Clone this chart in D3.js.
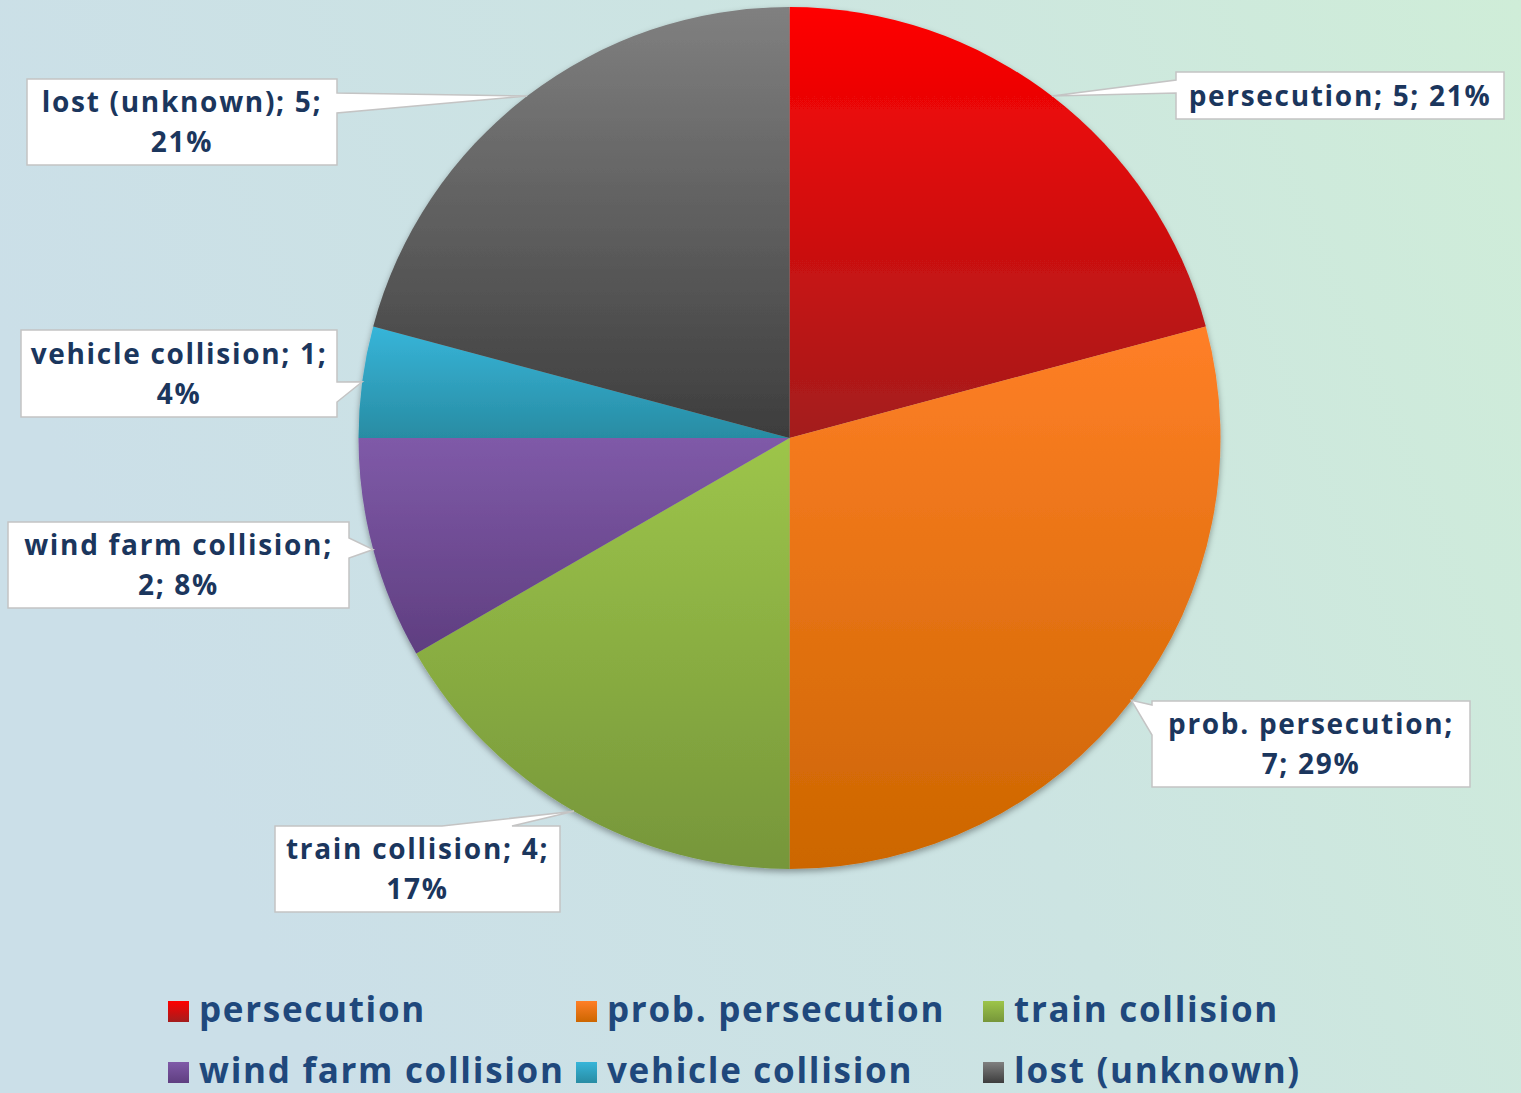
<!DOCTYPE html>
<html>
<head>
<meta charset="utf-8">
<script src="https://cdn.jsdelivr.net/npm/d3@7"></script>
<style>
  html, body { margin: 0; padding: 0; overflow: hidden; }
  svg { display: block; }
</style>
</head>
<body>
<div id="chart"></div>
<script>
// causes of death, counts
var categories = ["persecution", "prob. persecution", "train collision",
                  "wind farm collision", "vehicle collision", "lost (unknown)"];
var values = [5, 7, 4, 2, 1, 5];
// slice colours, light (top) and dark (bottom)
var colorTop = ["#ff0000", "#ff7f27", "#9dc54a", "#7f5aa8", "#37b5d9", "#808080"];
var colorBottom = ["#a31d1d", "#cc6600", "#76963a", "#5f3e80", "#288ca3", "#3d3d3d"];

var width = 1521, height = 1093;
var cx = 789.5, cy = 438, radius = 431;
var labelColor = "#1b365d", legendColor = "#1f487c";
var font = "'Open Sans', sans-serif";

// callout boxes: where each box sits and how its text wraps
var callouts = {
  "persecution":         { x: 1176, y: 72,  w: 328, h: 47, side: "left",  b0: 8,   b1: 21, lines: 1 },
  "prob. persecution":   { x: 1152, y: 701, w: 318, h: 86, side: "left",  b0: 4,   b1: 34, lines: 2 },
  "train collision":     { x: 275,  y: 826, w: 285, h: 86, side: "top",   b0: 167, b1: 237, lines: 2 },
  "wind farm collision": { x: 8,    y: 522, w: 341, h: 86, side: "right", b0: 16,  b1: 36, lines: 2 },
  "vehicle collision":   { x: 21,   y: 330, w: 316, h: 87, side: "right", b0: 52,  b1: 72, lines: 2 },
  "lost (unknown)":      { x: 27,   y: 79,  w: 310, h: 86, side: "right", b0: 14,  b1: 34, lines: 2 }
};

var total = d3.sum(values);
var data = categories.map(function(c, i) { return { name: c, value: values[i], i: i }; });

var svg = d3.select("#chart").append("svg")
  .attr("width", width)
  .attr("height", height);

var defs = svg.append("defs");

var bg = defs.append("linearGradient").attr("id", "bg")
  .attr("x1", 0).attr("y1", 0.3).attr("x2", 1).attr("y2", 0);
bg.append("stop").attr("offset", 0).attr("stop-color", "#cbdfe8");
bg.append("stop").attr("offset", 0.5).attr("stop-color", "#cce4e2");
bg.append("stop").attr("offset", 1).attr("stop-color", "#cfedd8");

data.forEach(function(d) {
  var g = defs.append("linearGradient").attr("id", "slice" + d.i)
    .attr("x1", 0).attr("y1", 0).attr("x2", 0).attr("y2", 1);
  g.append("stop").attr("offset", 0).attr("stop-color", colorTop[d.i]);
  g.append("stop").attr("offset", 1).attr("stop-color", colorBottom[d.i]);
});

var shadow = defs.append("filter").attr("id", "shadow")
  .attr("x", "-10%").attr("y", "-10%").attr("width", "120%").attr("height", "120%");
shadow.append("feDropShadow")
  .attr("dx", 0).attr("dy", 3).attr("stdDeviation", 3)
  .attr("flood-color", "#000").attr("flood-opacity", 0.35);

svg.append("rect")
  .attr("width", width).attr("height", height)
  .attr("fill", "url(#bg)");

var pie = d3.pie().sort(null).value(function(d) { return d.value; });
var arcs = pie(data);

var arc = d3.arc().innerRadius(0).outerRadius(radius);
var edge = d3.arc().innerRadius(radius).outerRadius(radius);

var pieG = svg.append("g")
  .attr("transform", "translate(" + cx + "," + cy + ")")
  .attr("filter", "url(#shadow)");

pieG.selectAll("path")
  .data(arcs)
  .enter().append("path")
    .attr("d", arc)
    .attr("fill", function(d) { return "url(#slice" + d.data.i + ")"; });

// callouts
function calloutPath(b, tip) {
  var x0 = b.x, y0 = b.y, x1 = b.x + b.w, y1 = b.y + b.h;
  var p = [];
  if (b.side == "left") {
    p = [[x0, y0], [x1, y0], [x1, y1], [x0, y1], [x0, y0 + b.b1], tip, [x0, y0 + b.b0]];
  } else if (b.side == "right") {
    p = [[x0, y0], [x1, y0], [x1, y0 + b.b0], tip, [x1, y0 + b.b1], [x1, y1], [x0, y1]];
  } else {
    p = [[x0, y0], [x0 + b.b0, y0], tip, [x0 + b.b1, y0], [x1, y0], [x1, y1], [x0, y1]];
  }
  return "M" + p.map(function(q) { return q.join(","); }).join("L") + "Z";
}

var labels = svg.append("g").attr("class", "labels");

arcs.forEach(function(a) {
  var b = callouts[a.data.name];
  var c = edge.centroid(a);
  var tip = [cx + c[0], cy + c[1]];
  var pct = Math.round(a.data.value / total * 100) + "%";
  var full = a.data.name + "; " + a.data.value + "; " + pct;

  labels.append("path")
    .attr("d", calloutPath(b, tip))
    .attr("fill", "#fff")
    .attr("stroke", "#c4c4c4")
    .attr("stroke-width", 1.5);

  var lines;
  if (b.lines == 1) {
    lines = [full];
  } else {
    // break before the last part that fits on line two
    var parts = full.split("; ");
    var first = a.data.name == "wind farm collision" || a.data.name == "prob. persecution" ? 1 : 2;
    lines = [parts.slice(0, first).join("; ") + ";", parts.slice(first).join("; ")];
  }

  var t = labels.append("text")
    .attr("text-anchor", "middle")
    .attr("font-family", font)
    .attr("font-weight", 700)
    .attr("font-size", 28)
    .attr("letter-spacing", 1.7)
    .attr("fill", labelColor);
  var top = b.y + b.h / 2 - (lines.length - 1) * 20 + 10;
  lines.forEach(function(l, k) {
    t.append("tspan")
      .attr("x", b.x + b.w / 2)
      .attr("y", top + k * 40)
      .text(l);
  });
});

// legend
var legendCols = [168, 576, 983];
var legendRows = [1001, 1062];

var legend = svg.append("g").attr("class", "legend")
  .selectAll("g")
  .data(data)
  .enter().append("g")
    .attr("transform", function(d) {
      return "translate(" + legendCols[d.i % 3] + "," + legendRows[Math.floor(d.i / 3)] + ")";
    });

legend.append("rect")
  .attr("width", 21).attr("height", 21)
  .attr("fill", function(d) { return "url(#slice" + d.i + ")"; });

legend.append("text")
  .attr("x", 31)
  .attr("y", 21)
  .attr("font-family", font)
  .attr("font-weight", 700)
  .attr("font-size", 35)
  .attr("letter-spacing", 1.7)
  .attr("fill", legendColor)
  .text(function(d) { return d.name; });
</script>
</body>
</html>
